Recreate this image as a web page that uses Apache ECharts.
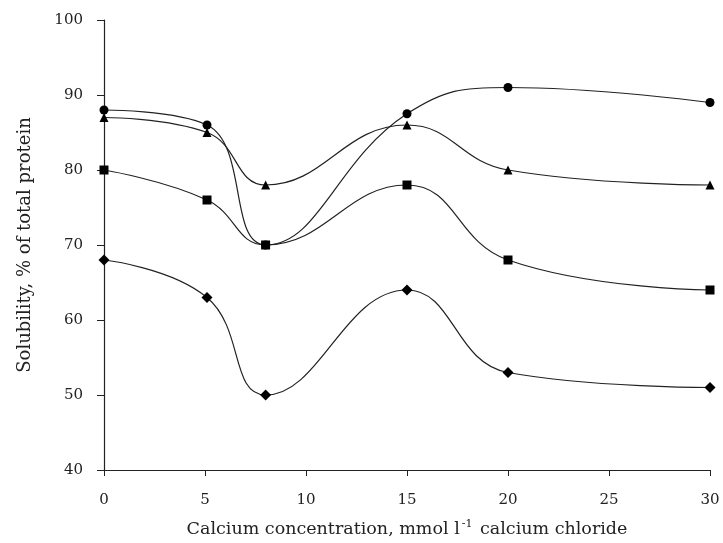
<!DOCTYPE html>
<html><head><meta charset="utf-8">
<script src="https://cdn.jsdelivr.net/npm/echarts@6/dist/echarts.min.js"></script>
<style>html,body{margin:0;padding:0;background:#fff}#c{width:723px;height:543px}</style>
</head><body><div id="c"></div>
<script>
var xValues = [0, 5.1, 8, 15, 20, 30];
var circleSeries = [88, 86, 70, 87.5, 91, 89];
var triangleSeries = [87, 85, 78, 86, 80, 78];
var squareSeries = [80, 76, 70, 78, 68, 64];
var diamondSeries = [68, 63, 50, 64, 53, 51];
var xTicks = [0, 5, 10, 15, 20, 25, 30];
var yTicks = [40, 50, 60, 70, 80, 90, 100];

function pairs(v){ return xValues.map(function(x,i){return [x, v[i]];}); }
var font = 'DejaVu Serif, Liberation Serif, serif';
function mk(name, data, symbol, size){
  return {name:name, type:'line', data:pairs(data), smooth:0.45, symbol:symbol, symbolSize:size,
    lineStyle:{color:'#222', width:1.2}, itemStyle:{color:'#000'}, z:3};
}
var chart = echarts.init(document.getElementById('c'));
chart.setOption({
  animation:false,
  grid:{left:104, right:13, top:20, bottom:73},
  xAxis:{type:'value', min:xTicks[0], max:xTicks[xTicks.length-1], interval:5,
    axisLine:{lineStyle:{color:'#222', width:1.2}},
    axisTick:{show:true, length:6, lineStyle:{color:'#222'}},
    splitLine:{show:false},
    axisLabel:{color:'#222', fontFamily:font, fontSize:15, margin:23},
    name:'Calcium concentration, mmol l{sup|-1} calcium chloride', nameLocation:'middle', nameGap:49,
    nameTextStyle:{color:'#222', fontFamily:font, fontSize:17.5, rich:{sup:{fontSize:11, verticalAlign:'top', padding:[0,2,9,2], fontFamily:font, color:'#222'}}}
  },
  yAxis:{type:'value', min:yTicks[0], max:yTicks[yTicks.length-1], interval:10,
    axisLine:{show:true, lineStyle:{color:'#222', width:1.2}},
    axisTick:{show:true, length:7, lineStyle:{color:'#222'}},
    splitLine:{show:false},
    axisLabel:{color:'#222', fontFamily:font, fontSize:15, margin:21},
    name:'Solubility, % of total protein', nameLocation:'middle', nameGap:70,
    nameTextStyle:{color:'#222', fontFamily:font, fontSize:18}
  },
  series:[
    mk('circle', circleSeries, 'circle', 9),
    mk('triangle', triangleSeries, 'triangle', 9),
    mk('square', squareSeries, 'rect', 9),
    mk('diamond', diamondSeries, 'diamond', 11)
  ]
});
</script></body></html>
